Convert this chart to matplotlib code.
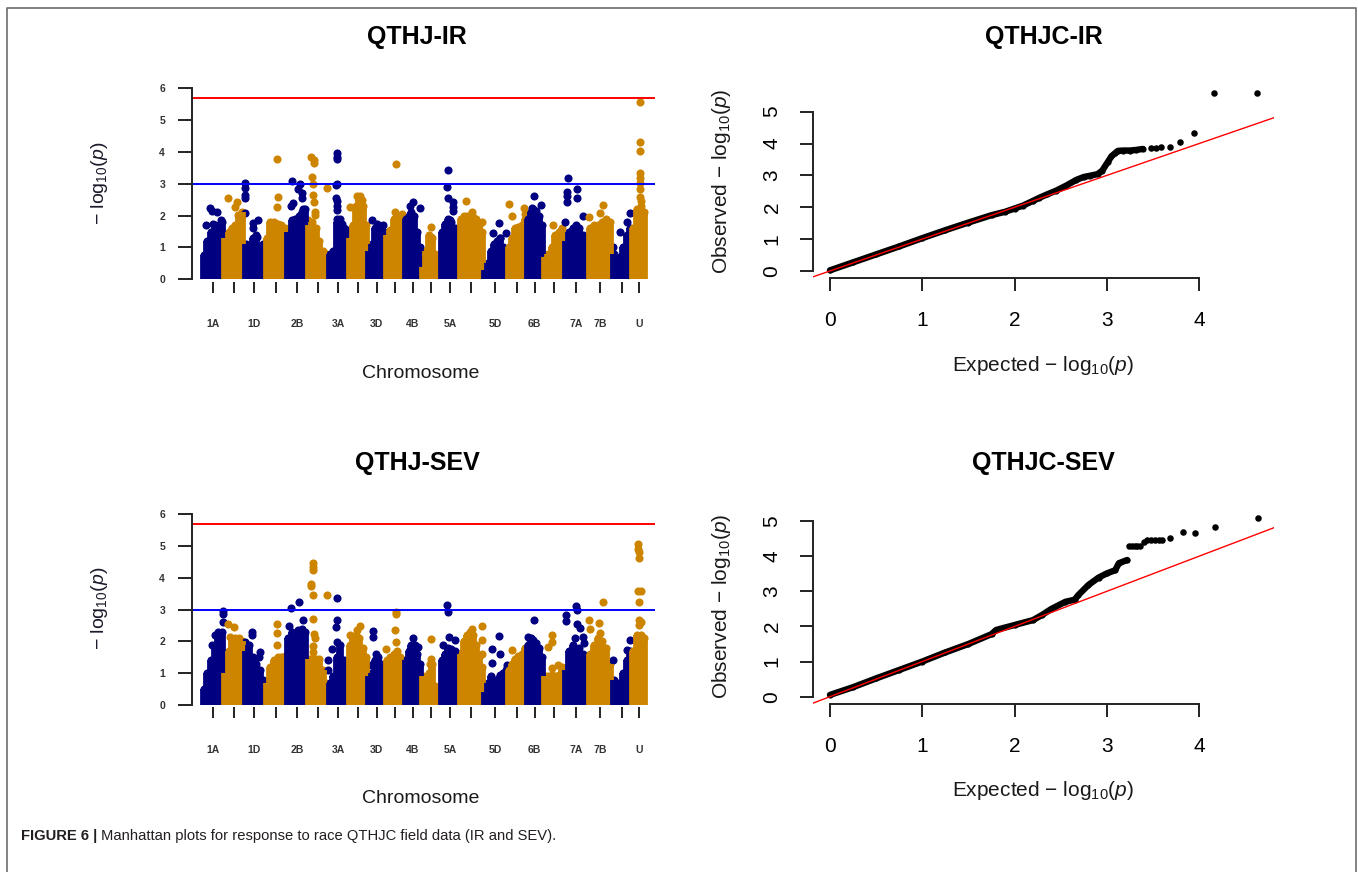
import numpy as np
import matplotlib
matplotlib.use('Agg')
import matplotlib.pyplot as plt
from matplotlib.lines import Line2D

plt.rcParams['font.family'] = ['Liberation Sans', 'DejaVu Sans']
plt.rcParams['mathtext.fontset'] = 'custom'
plt.rcParams['mathtext.rm'] = 'Liberation Sans'
plt.rcParams['mathtext.it'] = 'Liberation Sans:italic'

W, H = 1358, 872
NAVY = '#000080'
ORANGE = '#CD8500'

# chromosomes, relative lengths and which tick labels R kept
chroms = ['1A', '1B', '1D', '2A', '2B', '2D', '3A', '3B', '3D', '4A', '4B',
          '4D', '5A', '5B', '5D', '6A', '6B', '6D', '7A', '7B', '7D', 'U']
chrom_len = [217, 201, 212, 217, 205, 207, 208, 185, 187, 183, 175,
             183, 197, 233, 242, 191, 170, 207, 239, 241, 194, 146]
shown_labels = ['1A', '1D', '2B', '3A', '3D', '4B', '5A', '5D', '6B', '7A', '7B', 'U']

# QTHJ-IR: dense column tops per chromosome, then isolated SNPs (pos, -log10 p)
ir_base = [
    [0.75, 1.2, 1.5, 1.7, 1.5, 1.8], [1.3, 1.5, 1.6, 1.7, 2.0, 2.1],
    [1.1, 1.05, 1.3, 1.4, 1.0, 1.1], [1.3, 1.8, 1.8, 1.75, 1.7, 1.6],
    [1.5, 1.85, 1.9, 2.0, 2.1, 2.2], [1.7, 1.8, 1.6, 1.2, 0.9, 0.8],
    [0.8, 0.9, 1.8, 1.9, 1.6, 1.5], [1.3, 1.7, 2.3, 2.5, 2.3, 1.7],
    [0.9, 1.1, 1.6, 1.7, 1.6, 1.5], [1.4, 1.55, 1.9, 2.0, 1.9, 1.9],
    [1.9, 2.0, 2.1, 2.0, 1.5, 1.0], [0.4, 0.9, 1.4, 1.3, 0.8, 0.3],
    [1.5, 1.75, 1.9, 1.8, 1.6, 1.3], [1.9, 2.0, 2.0, 2.0, 1.95, 1.9, 1.7, 1.5],
    [0.3, 0.5, 0.9, 1.1, 1.2, 1.3, 1.0, 0.8], [1.0, 1.3, 1.6, 1.65, 1.7, 1.9],
    [1.9, 2.1, 2.2, 2.15, 2.0, 1.7], [0.7, 0.8, 1.0, 1.4, 1.5, 1.6],
    [1.2, 1.5, 1.6, 1.7, 1.6, 1.4, 1.3], [1.6, 1.7, 1.7, 1.8, 1.9, 1.8],
    [0.8, 0.6, 0.7, 1.0, 1.4, 1.6], [1.6, 2.2, 2.3, 2.1],
]
ir_peaks = [
    [(40, 1.7), (80, 2.25), (97, 2.15), (113, 1.75), (153, 2.1), (187, 1.85)],
    [(46, 2.54), (130, 2.44), (113, 2.28), (146, 2.02)],
    [(12, 3.02), (12, 2.86), (12, 2.65), (12, 2.54), (12, 2.07), (95, 1.76),
     (95, 1.6), (135, 1.34), (145, 1.85)],
    [(117, 3.77), (133, 2.58), (117, 2.28)],
    [(50, 3.1), (133, 3.0), (116, 2.85), (150, 2.7), (156, 2.55), (43, 2.31),
     (66, 2.4), (166, 2.2)],
    [(38, 3.83), (71, 3.75), (71, 3.64), (45, 3.22), (55, 3.0), (195, 2.88),
     (61, 2.65), (66, 2.42), (78, 2.13), (78, 2.02), (5, 1.85)],
    [(88, 3.96), (88, 3.85), (88, 3.78), (88, 3.0), (84, 2.95), (82, 2.54),
     (88, 2.45), (88, 2.3), (88, 2.18), (95, 1.9), (138, 1.75), (188, 1.55)],
    [(80, 2.62), (113, 2.62), (130, 2.5), (13, 2.28)],
    [(51, 1.86), (95, 1.75), (161, 1.72)],
    [(98, 3.62), (91, 2.13), (158, 2.05)],
    [(85, 2.44), (58, 2.3), (158, 2.23)],
    [(90, 1.65), (90, 1.34)],
    [(83, 3.43), (67, 2.91), (83, 2.54), (133, 2.44), (133, 2.28), (126, 2.16),
     (100, 1.86)],
    [(60, 2.47), (120, 2.1), (220, 1.8)],
    [(160, 1.78), (97, 1.45), (230, 1.45), (170, 1.29)],
    [(18, 2.37), (45, 1.99), (168, 2.23), (178, 2.05)],
    [(80, 2.63), (147, 2.33), (54, 2.23)],
    [(100, 1.71)],
    [(43, 3.17), (27, 2.75), (27, 2.63), (27, 2.44), (127, 2.83), (127, 2.55),
     (193, 1.99), (10, 1.8)],
    [(154, 2.33), (121, 2.09), (11, 1.97)],
    [(5, 1.0), (147, 1.81), (180, 2.07), (80, 1.5)],
    [(86, 5.58), (86, 4.32), (84, 4.04), (88, 3.33), (86, 3.17), (90, 3.02),
     (84, 2.85), (88, 2.6), (92, 2.45)],
]

# QTHJ-SEV
sev_base = [
    [0.5, 1.0, 1.4, 1.9, 2.1, 2.3], [1.0, 1.7, 2.0, 2.1, 2.1, 2.0],
    [1.7, 1.9, 1.5, 1.3, 1.1, 0.8], [0.7, 1.2, 1.4, 1.5, 1.5, 1.55],
    [2.1, 2.3, 2.0, 2.2, 2.4, 2.3], [1.45, 1.45, 1.45, 1.45, 1.1, 0.7],
    [0.7, 0.9, 1.5, 1.9, 1.4, 1.2], [1.9, 2.1, 2.2, 2.1, 1.8, 1.5],
    [0.9, 1.0, 1.4, 1.5, 1.3, 1.2], [1.4, 1.5, 1.6, 1.7, 1.5, 1.4],
    [1.4, 1.7, 1.9, 1.8, 1.6, 1.3], [0.9, 0.8, 1.0, 1.3, 0.6, 0.3],
    [1.4, 1.6, 1.8, 1.75, 1.7, 1.6], [1.6, 2.0, 2.2, 2.3, 2.2, 1.9, 1.5, 1.2],
    [0.4, 0.7, 0.9, 0.8, 0.7, 0.9, 1.0, 1.1], [1.1, 1.3, 1.45, 1.55, 1.6, 1.8],
    [1.9, 2.1, 2.05, 1.95, 1.8, 1.5], [0.9, 0.9, 0.95, 0.9, 0.95, 1.2],
    [1.1, 1.7, 1.9, 1.6, 1.8, 1.6, 1.5], [1.6, 1.9, 2.1, 2.0, 1.8, 1.3],
    [0.8, 0.7, 0.6, 1.0, 1.4, 1.7], [1.7, 2.2, 2.2, 2.1],
]
sev_peaks = [
    [(212, 2.95), (212, 2.85), (205, 2.6), (163, 2.29), (130, 2.2), (97, 1.9)],
    [(46, 2.53), (103, 2.45), (63, 2.14)],
    [(79, 2.29), (79, 2.2), (12, 1.98), (162, 1.67), (150, 1.5)],
    [(117, 2.55), (117, 2.26), (117, 1.9)],
    [(43, 3.04), (126, 3.23), (160, 2.66), (26, 2.47), (116, 2.35), (66, 2.2)],
    [(55, 4.45), (55, 4.35), (55, 4.24), (38, 3.8), (38, 3.75), (61, 3.46),
     (195, 3.46), (61, 2.69), (66, 2.24), (80, 2.1), (61, 1.85), (55, 1.65)],
    [(88, 3.35), (88, 2.66), (84, 2.45), (88, 1.98), (38, 1.75), (4, 1.4), (4, 1.1)],
    [(113, 2.47), (80, 2.35), (13, 2.2)],
    [(61, 2.32), (58, 2.15), (88, 1.61), (21, 1.25)],
    [(98, 2.92), (98, 2.85), (91, 2.36), (98, 1.98), (5, 1.77)],
    [(85, 2.1), (141, 1.82), (110, 1.9)],
    [(90, 2.06), (88, 1.46), (85, 1.3)],
    [(67, 3.15), (83, 2.92), (90, 2.14), (150, 2.05), (33, 1.9)],
    [(225, 2.47), (120, 2.4), (225, 2.03), (225, 1.6)],
    [(160, 2.17), (87, 1.75), (170, 1.6), (87, 1.33), (235, 1.25), (235, 1.15),
     (170, 0.95)],
    [(51, 1.72)],
    [(80, 2.66), (20, 2.14)],
    [(90, 2.2), (85, 1.98), (50, 1.82), (85, 1.15), (150, 1.25)],
    [(120, 3.12), (127, 3.0), (20, 2.84), (20, 2.65), (127, 2.55), (160, 2.43),
     (110, 2.1), (193, 2.15), (200, 1.96)],
    [(154, 3.25), (14, 2.66), (111, 2.57), (20, 2.4), (121, 2.25)],
    [(5, 1.41), (180, 2.03), (147, 1.72)],
    [(69, 5.05), (69, 4.9), (72, 4.8), (72, 4.61), (69, 3.57), (93, 3.57),
     (72, 3.25), (72, 2.66), (93, 2.6), (80, 2.5)],
]

# QQ plots: dense band (expected, observed) and the separate tail points
qq_ir_exp = [0, 0.25, 0.5, 0.75, 1.0, 1.25, 1.5, 1.75, 1.9, 2.0, 2.09, 2.2, 2.27,
             2.35, 2.45, 2.56, 2.67, 2.75, 2.82, 2.9, 2.95, 3.01, 3.05, 3.09,
             3.12, 3.18, 3.25, 3.32, 3.39]
qq_ir_obs = [0.02, 0.27, 0.52, 0.77, 1.03, 1.28, 1.52, 1.75, 1.86, 1.96, 2.05, 2.2,
             2.3, 2.4, 2.52, 2.68, 2.86, 2.95, 2.99, 3.04, 3.15, 3.42, 3.6, 3.7,
             3.77, 3.78, 3.78, 3.8, 3.83]
qq_ir_tail_exp = [3.48, 3.53, 3.59, 3.68, 3.79, 3.94, 4.16, 4.63]
qq_ir_tail_obs = [3.85, 3.86, 3.88, 3.88, 4.06, 4.34, 5.59, 5.59]

qq_sev_exp = [0, 0.25, 0.5, 0.75, 1.0, 1.25, 1.5, 1.75, 1.8, 2.0, 2.2, 2.3, 2.4,
              2.55, 2.65, 2.69, 2.8, 2.91, 3.0, 3.09, 3.13, 3.22]
qq_sev_obs = [0.05, 0.27, 0.52, 0.76, 1.0, 1.26, 1.5, 1.78, 1.9, 2.04, 2.18, 2.33,
              2.5, 2.7, 2.76, 2.89, 3.18, 3.39, 3.51, 3.6, 3.8, 3.89]
qq_sev_tail_exp = [3.24, 3.27, 3.3, 3.33, 3.36, 3.4, 3.44, 3.48, 3.52, 3.56, 3.6,
                   3.68, 3.82, 3.95, 4.17, 4.64]
qq_sev_tail_obs = [4.3, 4.3, 4.3, 4.3, 4.3, 4.41, 4.45, 4.46, 4.46, 4.46, 4.46,
                   4.52, 4.68, 4.67, 4.84, 5.08]

fig = plt.figure(figsize=(W / 100, H / 100), dpi=100)
fig.patch.set_facecolor('white')

DOT_S = 34      # Manhattan point area (pt^2)
DOT_LW = 5.6    # width of dense columns (pt)
AX_COL = '#222222'


def px_axes(left, top, right, bottom):
    return fig.add_axes([left / W, 1 - bottom / H, (right - left) / W, (bottom - top) / H])


def px_text(x, y, s, **kw):
    return fig.text(x / W, 1 - y / H, s, **kw)


def manhattan(dy, base, peaks, title):
    ax = px_axes(192, 80.7 + dy, 655, 281.7 + dy)
    starts = np.concatenate([[0], np.cumsum(chrom_len)[:-1]])
    for i in range(len(chroms)):
        col = NAVY if i % 2 == 0 else ORANGE
        n = len(base[i])
        xs = starts[i] + (np.arange(n) + 0.5) / n * chrom_len[i]
        ax.vlines(xs, 0, base[i], colors=col, linewidth=DOT_LW)
        ax.scatter(xs, base[i], s=DOT_S, color=col, linewidths=0)
        if peaks[i]:
            pos, val = zip(*peaks[i])
            ax.scatter(starts[i] + np.array(pos), val, s=DOT_S, color=col, linewidths=0)
    ax.axhline(5.69, color='#ff0000', lw=1.4)
    ax.axhline(3.0, color='#0000ff', lw=1.4)

    ax.set_xlim(-100, 4530)
    ax.set_ylim(-0.075, 6.24)
    for s in ['top', 'right', 'bottom']:
        ax.spines[s].set_visible(False)
    ax.spines['left'].set_bounds(0, 6)
    ax.spines['left'].set_linewidth(1.4)
    ax.spines['left'].set_color(AX_COL)
    ax.set_xticks(starts + np.array(chrom_len) / 2)
    ax.set_xticklabels([c if c in shown_labels else '' for c in chroms])
    ax.set_yticks(range(7))
    ax.tick_params(axis='x', length=8.1, width=1.4, pad=19, labelsize=7.5, color=AX_COL)
    ax.tick_params(axis='y', length=9.9, width=1.4, pad=9.5, labelsize=7.5, color=AX_COL)
    for lbl in ax.get_xticklabels() + ax.get_yticklabels():
        lbl.set_fontweight('bold')
        lbl.set_color('#333333')
    ax.patch.set_alpha(0)

    px_text(417, 37 + dy, title, fontsize=18, fontweight='bold', ha='center', va='center')
    px_text(100, 183 + dy, r'$-\ \mathrm{log}_{10}(\mathit{p})$', fontsize=14,
            rotation=90, ha='center', va='center', color='#1a1a2a')
    px_text(421, 373 + dy, 'Chromosome', fontsize=14, ha='center', va='center', color='#1a1a1a')


def qq(dy, ymax_data, band_x, band_y, tail_x, tail_y, title):
    ax = px_axes(812.9, 85.4 + dy, 1274.4, 278.1 + dy)
    ax.plot(band_x, band_y, color='black', lw=4.6, solid_capstyle='round',
            solid_joinstyle='round')
    ax.scatter(band_x, band_y, s=20, color='black', linewidths=0)
    ax.scatter(tail_x, tail_y, s=22, color='black', linewidths=0)
    ax.plot([-1, 7], [-1, 7], color='#ff0000', lw=1.0)
    pad = 0.04 * ymax_data
    ax.set_xlim(-0.185, 4.815)
    ax.set_ylim(-pad, ymax_data + pad)
    ax.spines['top'].set_visible(False)
    ax.spines['right'].set_visible(False)
    ax.spines['left'].set_bounds(0, 5)
    ax.spines['bottom'].set_bounds(0, 4)
    for s in ['left', 'bottom']:
        ax.spines[s].set_linewidth(1.4)
        ax.spines[s].set_color(AX_COL)
    ax.set_xticks(range(5))
    ax.set_yticks(range(6))
    ax.tick_params(axis='x', length=9.6, width=1.4, pad=14, labelsize=15, color=AX_COL)
    ax.tick_params(axis='y', length=9.6, width=1.4, pad=13, labelsize=15, color=AX_COL,
                   labelrotation=90)
    for lbl in ax.get_yticklabels():
        lbl.set_va('center')
    ax.patch.set_alpha(0)

    px_text(1043.6, 37 + dy, title, fontsize=18, fontweight='bold', ha='center', va='center')
    px_text(721.7, 181 + dy, r'Observed $-\ \mathrm{log}_{10}(\mathit{p})$', fontsize=15,
            rotation=90, ha='center', va='center', color='#1a1a1a')
    px_text(1043, 365 + dy, r'Expected $-\ \mathrm{log}_{10}(\mathit{p})$', fontsize=15,
            ha='center', va='center', color='#1a1a1a')


manhattan(0, ir_base, ir_peaks, 'QTHJ-IR')
manhattan(425.7, sev_base, sev_peaks, 'QTHJ-SEV')
qq(0, 5.6, qq_ir_exp, qq_ir_obs, qq_ir_tail_exp, qq_ir_tail_obs, 'QTHJC-IR')
qq(425.7, 5.08, qq_sev_exp, qq_sev_obs, qq_sev_tail_exp, qq_sev_tail_obs, 'QTHJC-SEV')

# outer frame (open at the bottom)
fx = [7 / W, 7 / W, 1356 / W, 1356 / W]
fy = [0, 1 - 8 / H, 1 - 8 / H, 0]
fig.add_artist(Line2D(fx, fy, transform=fig.transFigure, color='#6d6d6d', lw=1.2))

# caption
cap_size = 10.6
renderer = fig.canvas.get_renderer()
t1 = px_text(21, 836, 'FIGURE 6 |', fontsize=cap_size, fontweight='bold',
             va='center', color='#231f20')
bb = t1.get_window_extent(renderer=renderer)
fig.text(bb.x1 / W + 4 / W, 1 - 836 / H,
         'Manhattan plots for response to race QTHJC field data (IR and SEV).',
         fontsize=cap_size, va='center', color='#231f20')

fig.savefig('out.png', dpi=100)
